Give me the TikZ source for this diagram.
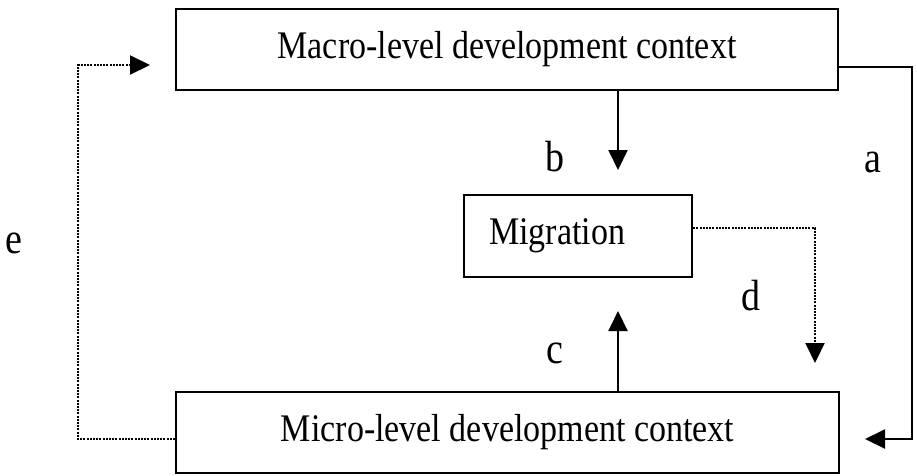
\documentclass[tikz,border=0pt]{standalone}
\usepackage{fontspec}
\setmainfont{Liberation Serif}
\usetikzlibrary{arrows.meta}
\newcommand{\tallt}[1]{\scalebox{1}[1.15]{#1}}
\begin{document}
\begin{tikzpicture}[x=1pt,y=-1pt,
  box/.style={draw, line width=2.2pt, rectangle, inner sep=0pt, font=\fontsize{34}{40}\selectfont},
  conn/.style={line width=2pt, -{Triangle[length=20pt,width=19pt]}},
  dotconn/.style={conn, dash pattern=on 2pt off 1.2pt},
  lbl/.style={font=\fontsize{38}{44}\selectfont, inner sep=0pt}]
\useasboundingbox (0,0) rectangle (917,475);
\node[box, minimum width=662pt, minimum height=81pt] (macro) at (507,49.5) {\tallt{Macro-level development context}};
\node[box, minimum width=228pt, minimum height=82pt] (mig) at (578,236) {\tallt{Migration}\hspace*{42pt}};
\node[box, minimum width=663pt, minimum height=81pt] (micro) at (507.5,432.5) {\tallt{Micro-level development context}};
\coordinate (bend) at (618,170);
\coordinate (cend) at (618,311);
\coordinate (a1) at (912,67);
\coordinate (a2) at (912,439);
\coordinate (aend) at (865,439);
\coordinate (d1) at (815,228);
\coordinate (dend) at (815,363);
\coordinate (e1) at (78,439);
\coordinate (e2) at (78,65);
\coordinate (eend) at (150,65);
\draw[conn] (macro.south -| bend) -- (bend);
\draw[conn] (micro.north -| cend) -- (cend);
\draw[conn] (macro.east |- a1) -- (a1) -- (a2) -- (aend);
\draw[dotconn] (mig.east |- d1) -- (d1) -- (dend);
\draw[dotconn] (micro.west |- e1) -- (e1) -- (e2) -- (eend);
\node[lbl] (lb) at (555,157) {\tallt{b}};
\node[lbl] (la) at (873,162) {\tallt{a}};
\node[lbl] (ld) at (751,296) {\tallt{d}};
\node[lbl] (lc) at (555,353) {\tallt{c}};
\node[lbl] (le) at (14,243) {\tallt{e}};
\end{tikzpicture}
\end{document}
